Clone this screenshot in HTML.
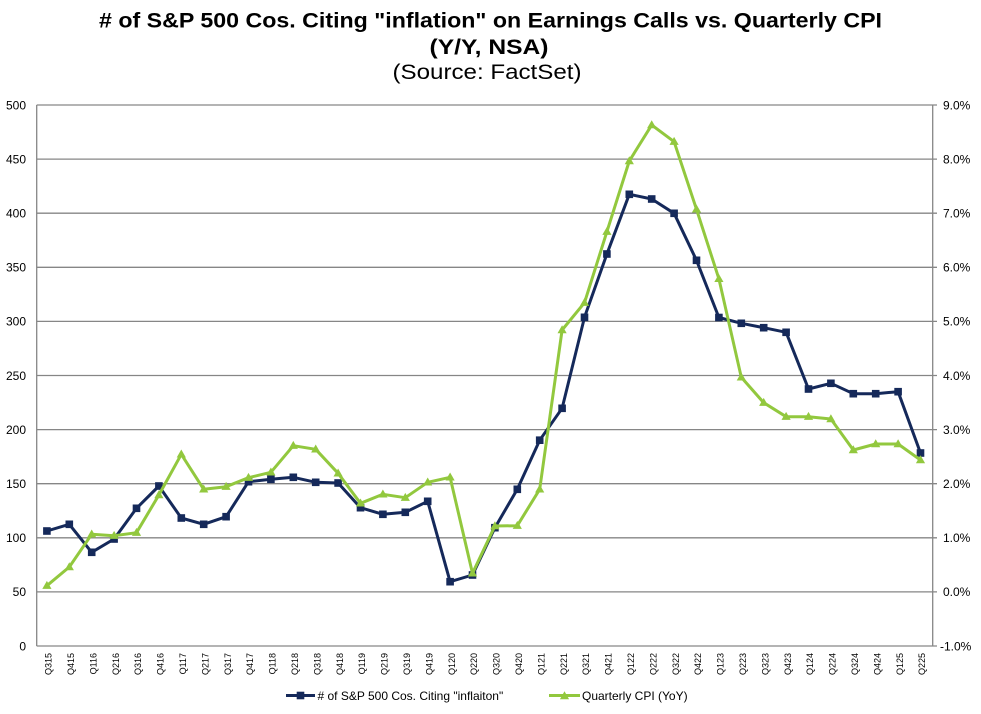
<!DOCTYPE html>
<html><head><meta charset="utf-8"><style>
html,body{margin:0;padding:0;background:#fff;}
svg{display:block;font-family:"Liberation Sans",Arial,sans-serif;}
</style></head><body>
<svg width="981" height="714" viewBox="0 0 981 714" xmlns="http://www.w3.org/2000/svg">
<rect width="981" height="714" fill="#fff"/>
<!-- Title -->
<text x="490.5" y="27.5" text-anchor="middle" font-size="21" font-weight="bold" fill="#000" textLength="783" lengthAdjust="spacingAndGlyphs"># of S&amp;P 500 Cos. Citing "inflation" on Earnings Calls vs. Quarterly CPI</text>
<text x="489" y="54" text-anchor="middle" font-size="21" font-weight="bold" fill="#000" textLength="119" lengthAdjust="spacingAndGlyphs">(Y/Y, NSA)</text>
<text x="487" y="79" text-anchor="middle" font-size="21" fill="#000" textLength="189" lengthAdjust="spacingAndGlyphs">(Source: FactSet)</text>

<!-- gridlines -->
<g stroke="#868686" stroke-width="1.3" fill="none">
<line x1="36.7" y1="105" x2="937" y2="105"/>
<line x1="36.7" y1="159.1" x2="937" y2="159.1"/>
<line x1="36.7" y1="213.2" x2="937" y2="213.2"/>
<line x1="36.7" y1="267.3" x2="937" y2="267.3"/>
<line x1="36.7" y1="321.4" x2="937" y2="321.4"/>
<line x1="36.7" y1="375.5" x2="937" y2="375.5"/>
<line x1="36.7" y1="429.6" x2="937" y2="429.6"/>
<line x1="36.7" y1="483.7" x2="937" y2="483.7"/>
<line x1="36.7" y1="537.8" x2="937" y2="537.8"/>
<line x1="36.7" y1="591.9" x2="937" y2="591.9"/>
<line x1="36.7" y1="646" x2="937" y2="646"/>
<line x1="36.7" y1="105" x2="36.7" y2="646"/>
<line x1="932.7" y1="105" x2="932.7" y2="646"/>
</g>

<!-- left axis labels -->
<g font-size="12" fill="#000" text-anchor="end">
<text x="26" y="109.3">500</text>
<text x="26" y="163.4">450</text>
<text x="26" y="217.5">400</text>
<text x="26" y="271.6">350</text>
<text x="26" y="325.7">300</text>
<text x="26" y="379.8">250</text>
<text x="26" y="433.9">200</text>
<text x="26" y="488">150</text>
<text x="26" y="542.1">100</text>
<text x="26" y="596.2">50</text>
<text x="26" y="650.3">0</text>
</g>
<!-- right axis labels -->
<g font-size="12" fill="#000">
<text x="943" y="109.3">9.0%</text>
<text x="943" y="163.4">8.0%</text>
<text x="943" y="217.5">7.0%</text>
<text x="943" y="271.6">6.0%</text>
<text x="943" y="325.7">5.0%</text>
<text x="943" y="379.8">4.0%</text>
<text x="943" y="433.9">3.0%</text>
<text x="943" y="488">2.0%</text>
<text x="943" y="542.1">1.0%</text>
<text x="943" y="596.2">0.0%</text>
<text x="940" y="650.3">-1.0%</text>
</g>

<!-- x labels -->
<g font-size="9" fill="#000" text-anchor="end">
<text transform="translate(51.6,653) rotate(-90)">Q315</text>
<text transform="translate(74,653) rotate(-90)">Q415</text>
<text transform="translate(96.4,653) rotate(-90)">Q116</text>
<text transform="translate(118.8,653) rotate(-90)">Q216</text>
<text transform="translate(141.2,653) rotate(-90)">Q316</text>
<text transform="translate(163.6,653) rotate(-90)">Q416</text>
<text transform="translate(186,653) rotate(-90)">Q117</text>
<text transform="translate(208.4,653) rotate(-90)">Q217</text>
<text transform="translate(230.8,653) rotate(-90)">Q317</text>
<text transform="translate(253.2,653) rotate(-90)">Q417</text>
<text transform="translate(275.6,653) rotate(-90)">Q118</text>
<text transform="translate(298,653) rotate(-90)">Q218</text>
<text transform="translate(320.4,653) rotate(-90)">Q318</text>
<text transform="translate(342.8,653) rotate(-90)">Q418</text>
<text transform="translate(365.2,653) rotate(-90)">Q119</text>
<text transform="translate(387.6,653) rotate(-90)">Q219</text>
<text transform="translate(410,653) rotate(-90)">Q319</text>
<text transform="translate(432.4,653) rotate(-90)">Q419</text>
<text transform="translate(454.8,653) rotate(-90)">Q120</text>
<text transform="translate(477.2,653) rotate(-90)">Q220</text>
<text transform="translate(499.6,653) rotate(-90)">Q320</text>
<text transform="translate(522,653) rotate(-90)">Q420</text>
<text transform="translate(544.4,653) rotate(-90)">Q121</text>
<text transform="translate(566.8,653) rotate(-90)">Q221</text>
<text transform="translate(589.2,653) rotate(-90)">Q321</text>
<text transform="translate(611.6,653) rotate(-90)">Q421</text>
<text transform="translate(634,653) rotate(-90)">Q122</text>
<text transform="translate(656.4,653) rotate(-90)">Q222</text>
<text transform="translate(678.8,653) rotate(-90)">Q322</text>
<text transform="translate(701.2,653) rotate(-90)">Q422</text>
<text transform="translate(723.6,653) rotate(-90)">Q123</text>
<text transform="translate(746,653) rotate(-90)">Q223</text>
<text transform="translate(768.4,653) rotate(-90)">Q323</text>
<text transform="translate(790.8,653) rotate(-90)">Q423</text>
<text transform="translate(813.2,653) rotate(-90)">Q124</text>
<text transform="translate(835.6,653) rotate(-90)">Q224</text>
<text transform="translate(858,653) rotate(-90)">Q324</text>
<text transform="translate(880.4,653) rotate(-90)">Q424</text>
<text transform="translate(902.8,653) rotate(-90)">Q125</text>
<text transform="translate(925.2,653) rotate(-90)">Q225</text>
</g>

<defs>
<rect id="sq" x="-3.8" y="-3.8" width="7.6" height="7.6" fill="#15295a"/>
<path id="tri" d="M0,-4.8 L4.6,3.2 L-4.6,3.2 Z" fill="#92c83e"/>
</defs>

<!-- Blue series -->
<polyline fill="none" stroke="#15295a" stroke-width="3" stroke-linejoin="round" points="46.9,531 69.3,524.3 91.7,552.3 114.1,539 136.5,508.3 158.9,486 181.3,518 203.7,524.3 226.1,516.7 248.5,481.7 270.9,479.3 293.3,477.3 315.7,482.3 338.1,483 360.5,507.7 382.9,514.3 405.3,512.3 427.7,501.3 450.1,581.7 472.5,575 494.9,527.7 517.3,489.3 539.7,440.2 562.1,408.3 584.5,317.3 606.9,254 629.3,194.3 651.7,199 674.1,213.3 696.5,260.3 718.9,317.5 741.3,323.3 763.7,327.7 786.1,332.3 808.5,389 830.9,383.3 853.3,393.7 875.7,393.7 898.1,391.7 920.5,453"/>
<g>
<use href="#sq" x="46.9" y="531"/><use href="#sq" x="69.3" y="524.3"/><use href="#sq" x="91.7" y="552.3"/><use href="#sq" x="114.1" y="539"/><use href="#sq" x="136.5" y="508.3"/><use href="#sq" x="158.9" y="486"/><use href="#sq" x="181.3" y="518"/><use href="#sq" x="203.7" y="524.3"/><use href="#sq" x="226.1" y="516.7"/><use href="#sq" x="248.5" y="481.7"/><use href="#sq" x="270.9" y="479.3"/><use href="#sq" x="293.3" y="477.3"/><use href="#sq" x="315.7" y="482.3"/><use href="#sq" x="338.1" y="483"/><use href="#sq" x="360.5" y="507.7"/><use href="#sq" x="382.9" y="514.3"/><use href="#sq" x="405.3" y="512.3"/><use href="#sq" x="427.7" y="501.3"/><use href="#sq" x="450.1" y="581.7"/><use href="#sq" x="472.5" y="575"/><use href="#sq" x="494.9" y="527.7"/><use href="#sq" x="517.3" y="489.3"/><use href="#sq" x="539.7" y="440.2"/><use href="#sq" x="562.1" y="408.3"/><use href="#sq" x="584.5" y="317.3"/><use href="#sq" x="606.9" y="254"/><use href="#sq" x="629.3" y="194.3"/><use href="#sq" x="651.7" y="199"/><use href="#sq" x="674.1" y="213.3"/><use href="#sq" x="696.5" y="260.3"/><use href="#sq" x="718.9" y="317.5"/><use href="#sq" x="741.3" y="323.3"/><use href="#sq" x="763.7" y="327.7"/><use href="#sq" x="786.1" y="332.3"/><use href="#sq" x="808.5" y="389"/><use href="#sq" x="830.9" y="383.3"/><use href="#sq" x="853.3" y="393.7"/><use href="#sq" x="875.7" y="393.7"/><use href="#sq" x="898.1" y="391.7"/><use href="#sq" x="920.5" y="453"/>
</g>

<!-- Green series -->
<polyline fill="none" stroke="#92c83e" stroke-width="3" stroke-linejoin="round" points="46.9,585.7 69.3,567 91.7,534.3 114.1,535.7 136.5,532.7 158.9,495 181.3,454.3 203.7,489.3 226.1,486.7 248.5,477.7 270.9,472.3 293.3,445.7 315.7,449.3 338.1,473.3 360.5,503.3 382.9,494.3 405.3,497.7 427.7,482.3 450.1,477.3 472.5,573.3 494.9,526 517.3,525.7 539.7,489.3 562.1,330 584.5,302.7 606.9,231.7 629.3,161 651.7,125 674.1,141.7 696.5,209.3 718.9,278.8 741.3,377.3 763.7,402.7 786.1,416.7 808.5,416.7 830.9,419 853.3,450 875.7,444 898.1,444 920.5,460"/>
<g>
<use href="#tri" x="46.9" y="585.7"/><use href="#tri" x="69.3" y="567"/><use href="#tri" x="91.7" y="534.3"/><use href="#tri" x="114.1" y="535.7"/><use href="#tri" x="136.5" y="532.7"/><use href="#tri" x="158.9" y="495"/><use href="#tri" x="181.3" y="454.3"/><use href="#tri" x="203.7" y="489.3"/><use href="#tri" x="226.1" y="486.7"/><use href="#tri" x="248.5" y="477.7"/><use href="#tri" x="270.9" y="472.3"/><use href="#tri" x="293.3" y="445.7"/><use href="#tri" x="315.7" y="449.3"/><use href="#tri" x="338.1" y="473.3"/><use href="#tri" x="360.5" y="503.3"/><use href="#tri" x="382.9" y="494.3"/><use href="#tri" x="405.3" y="497.7"/><use href="#tri" x="427.7" y="482.3"/><use href="#tri" x="450.1" y="477.3"/><use href="#tri" x="472.5" y="573.3"/><use href="#tri" x="494.9" y="526"/><use href="#tri" x="517.3" y="525.7"/><use href="#tri" x="539.7" y="489.3"/><use href="#tri" x="562.1" y="330"/><use href="#tri" x="584.5" y="302.7"/><use href="#tri" x="606.9" y="231.7"/><use href="#tri" x="629.3" y="161"/><use href="#tri" x="651.7" y="125"/><use href="#tri" x="674.1" y="141.7"/><use href="#tri" x="696.5" y="209.3"/><use href="#tri" x="718.9" y="278.8"/><use href="#tri" x="741.3" y="377.3"/><use href="#tri" x="763.7" y="402.7"/><use href="#tri" x="786.1" y="416.7"/><use href="#tri" x="808.5" y="416.7"/><use href="#tri" x="830.9" y="419"/><use href="#tri" x="853.3" y="450"/><use href="#tri" x="875.7" y="444"/><use href="#tri" x="898.1" y="444"/><use href="#tri" x="920.5" y="460"/>
</g>

<!-- Legend -->
<line x1="286" y1="695.5" x2="315" y2="695.5" stroke="#15295a" stroke-width="3"/>
<use href="#sq" x="300.5" y="695.5"/>
<text x="317.5" y="700" font-size="12" fill="#000"># of S&amp;P 500 Cos. Citing "inflaiton"</text>
<line x1="549" y1="695.5" x2="580" y2="695.5" stroke="#92c83e" stroke-width="3"/>
<use href="#tri" x="564.5" y="696"/>
<text x="582" y="700" font-size="12" fill="#000">Quarterly CPI (YoY)</text>
</svg>
</body></html>
